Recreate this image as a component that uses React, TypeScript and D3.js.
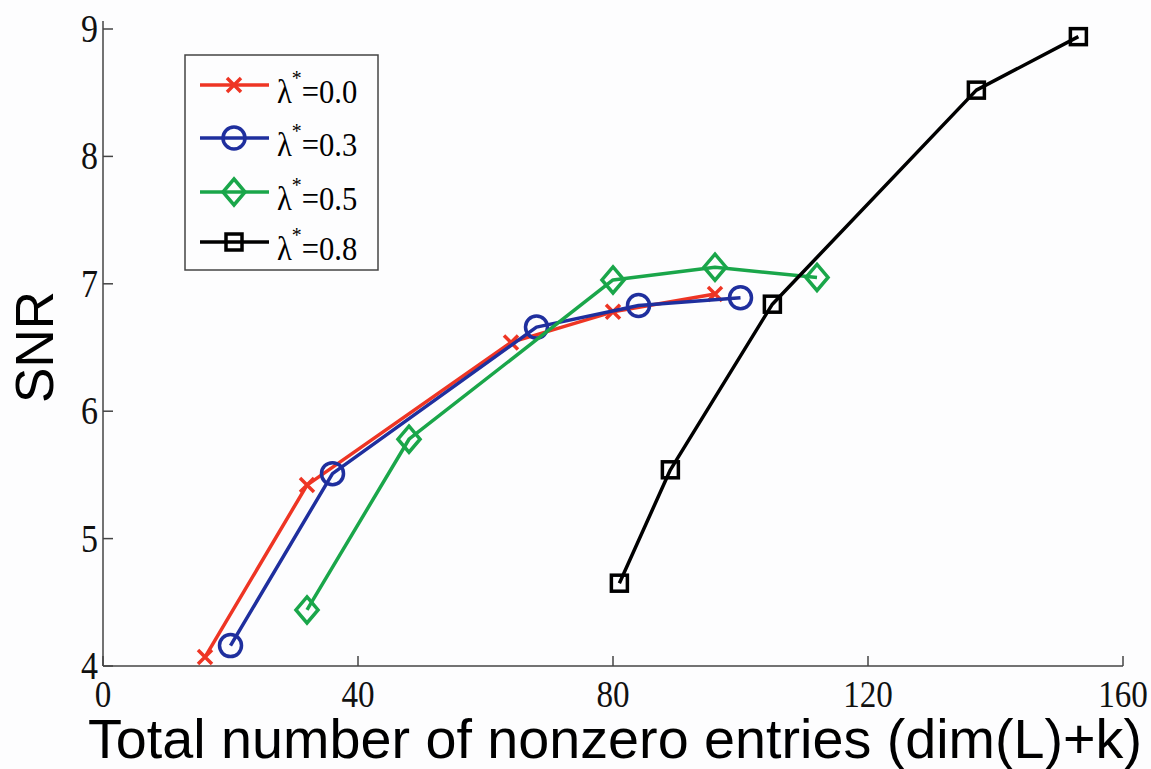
import React from "react";
import * as d3 from "d3";

const xTicks = [0, 40, 80, 120, 160];
const yTicks = [4, 5, 6, 7, 8, 9];

const redX = [16, 32, 64, 80, 96];
const redY = [4.07, 5.42, 6.54, 6.78, 6.92];
const blueX = [20, 36, 68, 84, 100];
const blueY = [4.16, 5.51, 6.66, 6.83, 6.89];
const greenX = [32, 48, 80, 96, 112];
const greenY = [4.44, 5.78, 7.03, 7.13, 7.05];
const blackX = [81, 89, 105, 137, 153];
const blackY = [4.65, 5.54, 6.84, 8.52, 8.94];

const seriesNames = ["0.0", "0.3", "0.5", "0.8"];
const seriesColors = ["#ee3524", "#1f2f9e", "#1aa64a", "#000000"];
const seriesMarkers = ["x", "circle", "diamond", "square"];

const W = 1151;
const H = 769;
const left = 103, right = 1123, top = 29, bottom = 666;

function Marker({ type, x, y, color }: { type: string; x: number; y: number; color: string }) {
  const sw = 3.5;
  if (type === "x") {
    const s = 7;
    return (
      <path d={`M${x - s},${y - s}L${x + s},${y + s}M${x - s},${y + s}L${x + s},${y - s}`} stroke={color} strokeWidth={sw} fill="none" />
    );
  }
  if (type === "circle") {
    return <circle cx={x} cy={y} r={11} stroke={color} strokeWidth={sw} fill="none" />;
  }
  if (type === "diamond") {
    const s = 13;
    return <path d={`M${x},${y - s}L${x + s * 0.85},${y}L${x},${y + s}L${x - s * 0.85},${y}Z`} stroke={color} strokeWidth={sw} fill="none" />;
  }
  const s = 8;
  return <rect x={x - s} y={y - s} width={2 * s} height={2 * s} stroke={color} strokeWidth={sw} fill="none" />;
}

export default function App() {
  const xs = d3.scaleLinear().domain([0, 160]).range([left, right]);
  const ys = d3.scaleLinear().domain([4, 9]).range([bottom, top]);
  const line = d3.line<[number, number]>().x((d) => xs(d[0])).y((d) => ys(d[1]));
  const data = [
    [redX, redY],
    [blueX, blueY],
    [greenX, greenY],
    [blackX, blackY],
  ];
  const legendY = [85, 138, 192, 242];
  return (
    <svg width={W} height={H} style={{ position: "absolute", left: 0, top: 0, background: "#fdfdfe" }}>
      <rect x={0} y={0} width={W} height={H} fill="#fdfdfe" />
      {/* axes */}
      <line x1={left} x2={left} y1={top - 8} y2={bottom} stroke="#444" strokeWidth={1.5} />
      <line x1={left} x2={right} y1={bottom} y2={bottom} stroke="#444" strokeWidth={1.5} />
      {yTicks.map((t) => (
        <g key={"y" + t}>
          <line x1={left} x2={left + 10} y1={ys(t)} y2={ys(t)} stroke="#444" strokeWidth={1.5} />
          <g transform={`translate(${left - 5},${ys(t) + 13}) scale(0.85,1)`}>
            <text textAnchor="end" fontFamily="Liberation Serif" fontSize={40} fill="#111">
              {t}
            </text>
          </g>
        </g>
      ))}
      {xTicks.map((t) => (
        <g key={"x" + t}>
          <line x1={xs(t)} x2={xs(t)} y1={bottom} y2={bottom - 10} stroke="#444" strokeWidth={1.5} />
          <g transform={`translate(${xs(t)},707) scale(0.85,1)`}>
            <text textAnchor="middle" fontFamily="Liberation Serif" fontSize={39} fill="#111">
              {t}
            </text>
          </g>
        </g>
      ))}
      <text x={88} y={758} fontFamily="Liberation Sans" fontSize={55} textLength={1054} lengthAdjust="spacingAndGlyphs" fill="#000">
        Total number of nonzero entries (dim(L)+k)
      </text>
      <text transform={`translate(53,347) rotate(-90)`} textAnchor="middle" fontFamily="Liberation Sans" fontSize={53} fill="#000">
        SNR
      </text>
      {/* series */}
      {data.map(([xv, yv], i) => {
        const pts: [number, number][] = xv.map((x, j) => [x, yv[j]]);
        return (
          <g key={"s" + i}>
            <path d={line(pts) || ""} stroke={seriesColors[i]} strokeWidth={3.5} fill="none" strokeLinejoin="round" />
            {pts.map((p, j) => (
              <Marker key={j} type={seriesMarkers[i]} x={xs(p[0])} y={ys(p[1])} color={seriesColors[i]} />
            ))}
          </g>
        );
      })}
      {/* legend */}
      <rect x={185} y={55} width={193} height={215} fill="#fdfdfe" stroke="#444" strokeWidth={1.5} />
      {seriesNames.map((n, i) => (
        <g key={"l" + i}>
          <line x1={200} x2={269} y1={legendY[i]} y2={legendY[i]} stroke={seriesColors[i]} strokeWidth={3.5} />
          <Marker type={seriesMarkers[i]} x={234} y={legendY[i]} color={seriesColors[i]} />
          <g transform={`translate(277,${legendY[i] + 18}) scale(0.9,1)`}>
            <text fontFamily="Liberation Serif" fontSize={34} fill="#000">
              λ
              <tspan dy={-18} fontSize={22}>*</tspan>
              <tspan dy={18}>{"=" + n}</tspan>
            </text>
          </g>
        </g>
      ))}
    </svg>
  );
}
